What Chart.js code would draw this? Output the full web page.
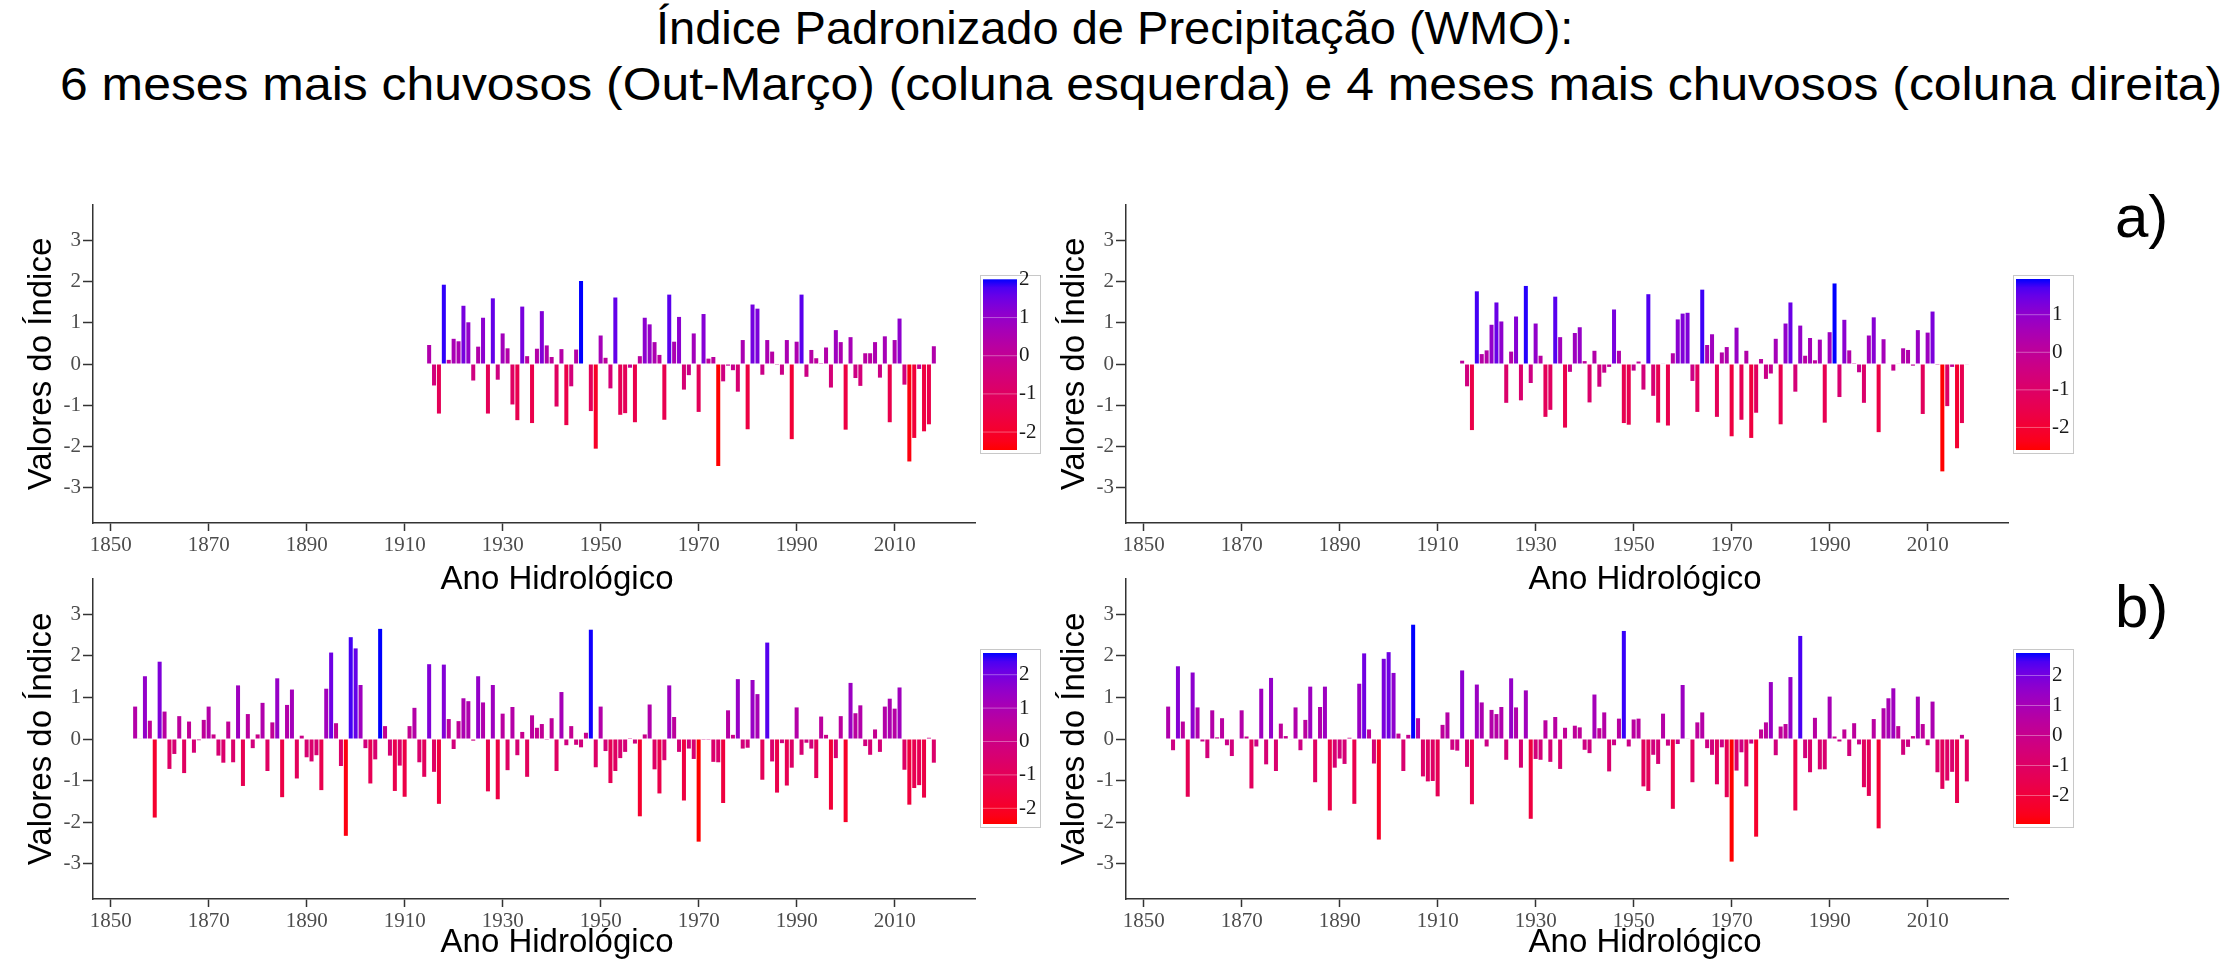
<!DOCTYPE html>
<html>
<head>
<meta charset="utf-8">
<script src="https://cdn.jsdelivr.net/npm/chart.js@4.4.1/dist/chart.umd.min.js"></script>
<style>
	body { margin: 0; width: 2226px; height: 967px; background: #fff; position: relative; overflow: hidden; font-family: "Liberation Sans", Arial, sans-serif; }
	canvas { position: absolute; }
	.t { position: absolute; white-space: nowrap; line-height: 1; color: #000; transform-origin: 0 0; }
</style>
</head>
<body>
<div class="t" id="t1" style="left:656px;top:5px;font-size:46px">Índice Padronizado de Precipitação (WMO):</div>
<div class="t" id="t2" style="left:60px;top:61px;font-size:46px">6 meses mais chuvosos (Out-Março) (coluna esquerda) e 4 meses mais chuvosos (coluna direita)</div>
<div class="t" style="left:2115px;top:187px;font-size:60px">a)</div>
<div class="t" style="left:2115px;top:577px;font-size:60px">b)</div>
<canvas id="aEsq" width="1113" height="420" style="left:0;top:180px"></canvas>
<canvas id="aDir" width="1113" height="420" style="left:1033px;top:180px"></canvas>
<canvas id="bEsq" width="1113" height="407" style="left:0;top:560px"></canvas>
<canvas id="bDir" width="1113" height="407" style="left:1033px;top:560px"></canvas>
<script>
var xTicks = [1850, 1870, 1890, 1910, 1930, 1950, 1970, 1990, 2010];
var yTicks = [-3, -2, -1, 0, 1, 2, 3];

// a) serie curta, anos hidrologicos 1915-2018
var inicioCurto = 1915;
var spi6Curto = [
	0.46, -0.52, -1.20, 1.92, 0.10, 0.61, 0.55, 1.41, 1.01, -0.40,
	0.42, 1.12, -1.20, 1.59, -0.38, 0.74, 0.38, -0.98, -1.36, 1.39,
	0.19, -1.43, 0.37, 1.28, 0.45, 0.17, -1.03, 0.36, -1.48, -0.54,
	0.35, 2.01, 0.00, -1.14, -2.05, 0.69, 0.15, -0.59, 1.61, -1.23,
	-1.19, -0.09, -1.41, 0.19, 1.12, 0.96, 0.53, 0.22, -1.35, 1.68,
	0.54, 1.14, -0.62, -0.27, 0.74, -1.16, 1.21, 0.13, 0.17, -2.47,
	-0.42, -0.04, -0.15, -0.67, 0.58, -1.58, 1.44, 1.34, -0.26, 0.58,
	0.30, -0.02, -0.26, 0.58, -1.82, 0.54, 1.68, -0.31, 0.34, 0.14,
	0.02, 0.40, -0.57, 0.82, 0.53, -1.59, 0.65, -0.34, -0.53, 0.26,
	0.26, 0.53, -0.33, 0.67, -1.41, 0.58, 1.10, -0.50, -2.36, -1.79,
	-0.12, -1.63, -1.46, 0.43
];
var spi4Curto = [
	0.08, -0.54, -1.60, 1.76, 0.24, 0.33, 0.95, 1.49, 1.03, -0.94,
	0.30, 1.15, -0.88, 1.89, -0.46, 0.98, 0.20, -1.28, -1.11, 1.63,
	0.65, -1.54, -0.19, 0.75, 0.89, 0.07, -0.93, 0.32, -0.55, -0.21,
	-0.07, 1.32, 0.32, -1.43, -1.47, -0.16, 0.06, -0.62, 1.69, -0.77,
	-1.42, 0.01, -1.49, 0.26, 1.08, 1.22, 1.24, -0.41, -1.16, 1.80,
	0.46, 0.72, -1.28, 0.28, 0.41, -1.75, 0.88, -1.35, 0.32, -1.79,
	-1.18, 0.12, -0.36, -0.23, 0.61, -1.46, 0.98, 1.49, -0.67, 0.93,
	0.20, 0.63, 0.09, 0.59, -1.42, 0.77, 1.95, -0.80, 1.07, 0.33,
	0.02, -0.20, -0.94, 0.69, 1.13, -1.65, 0.60, 0.00, -0.16, 0.01,
	0.38, 0.34, -0.04, 0.82, -1.21, 0.76, 1.27, -0.02, -2.60, -1.02,
	-0.07, -2.04, -1.43, -0.01
];

// b) serie longa, anos hidrologicos 1855-2018
var inicioLongo = 1855;
var spi6Longo = [
	0.78, 0.01, 1.51, 0.44, -1.89, 1.86, 0.66, -0.72, -0.36, 0.55,
	-0.82, 0.42, -0.33, -0.03, 0.46, 0.78, 0.11, -0.40, -0.57, 0.42,
	-0.56, 1.29, -1.13, 0.60, -0.22, 0.11, 0.87, -0.77, 0.40, 1.46,
	-1.40, 0.82, 1.19, -0.95, 0.08, -0.44, -0.54, -0.39, -1.23, 1.21,
	2.08, 0.38, -0.65, -2.33, 2.45, 2.18, 1.30, -0.22, -1.07, -0.49,
	2.65, 0.31, -0.40, -1.25, -0.64, -1.39, 0.31, 0.75, -0.56, -0.91,
	1.80, -0.79, -1.56, 1.79, 0.48, -0.24, 0.43, 0.98, 0.91, -0.04,
	1.51, 0.88, -1.26, 1.30, -1.45, 0.61, -0.75, 0.77, -0.39, 0.17,
	-0.91, 0.57, 0.27, 0.36, -0.02, 0.50, -0.77, 1.13, -0.15, 0.31,
	-0.14, -0.20, 0.15, 2.63, -0.68, 0.78, -0.29, -1.06, -0.77, -0.46,
	-0.31, 0.02, -0.11, -1.86, 0.11, 0.83, -0.73, -1.31, -0.51, 1.29,
	0.53, -0.31, -1.48, -0.23, -0.48, -2.47, -0.02, -0.02, -0.55, -0.56,
	-1.54, 0.69, 0.10, 1.44, -0.23, -0.21, 1.42, 1.08, -0.98, 2.32,
	-0.54, -1.29, -0.10, -1.12, -0.69, 0.76, -0.38, -0.09, -0.23, -0.94,
	0.54, 0.10, -1.70, -0.46, 0.55, -2.00, 1.35, 0.62, 0.81, -0.17,
	-0.38, 0.23, -0.31, 0.78, 0.97, 0.73, 1.24, -0.74, -1.58, -1.18,
	-1.11, -1.41, 0.03, -0.57
];
var spi4Longo = [
	0.78, -0.27, 1.75, 0.42, -1.39, 1.60, 0.76, -0.06, -0.46, 0.69,
	0.04, 0.50, -0.15, -0.41, 0.00, 0.69, 0.06, -1.19, -0.18, 1.21,
	-0.61, 1.47, -0.77, 0.37, 0.07, -0.01, 0.76, -0.27, 0.46, 1.26,
	-1.04, 0.77, 1.26, -1.72, -0.69, -0.47, -0.60, 0.03, -1.56, 1.33,
	2.06, 0.23, -0.59, -2.42, 1.93, 2.09, 1.59, 0.13, -0.77, 0.10,
	2.75, 0.50, -0.90, -1.02, -1.01, -1.38, 0.34, 0.64, -0.26, -0.28,
	1.65, -0.67, -1.57, 1.31, 0.88, -0.18, 0.70, 0.60, 0.77, -0.50,
	1.46, 0.76, -0.69, 1.17, -1.92, -0.48, -0.50, 0.45, -0.55, 0.53,
	-0.72, 0.27, -0.01, 0.32, 0.28, -0.26, -0.34, 1.07, 0.26, 0.64,
	-0.78, -0.15, 0.49, 2.60, -0.18, 0.47, 0.49, -1.14, -1.25, -0.38,
	-0.60, 0.61, -0.16, -1.68, -0.12, 1.30, 0.01, -1.04, 0.40, 0.64,
	-0.22, -0.38, -1.09, -0.20, -1.40, -2.95, -0.76, -0.32, -1.14, -0.11,
	-2.35, 0.23, 0.40, 1.37, -0.39, 0.30, 0.36, 1.49, -1.72, 2.48,
	-0.46, -0.80, 0.51, -0.73, -0.73, 1.02, 0.06, -0.06, 0.23, -0.41,
	0.38, -0.13, -1.16, -1.37, 0.48, -2.15, 0.74, 0.98, 1.22, 0.31,
	-0.38, -0.19, 0.07, 1.02, 0.36, -0.15, 0.90, -0.80, -1.20, -1.00,
	-0.79, -1.54, 0.10, -1.02
];

var serif = '"Liberation Serif", "Times New Roman", serif';
var sans = '"Liberation Sans", Arial, sans-serif';

// vermelho -> azul interpolado em Lab
function linear(c) {
	c = c / 255;
	return c <= 0.04045 ? c / 12.92 : Math.pow((c + 0.055) / 1.055, 2.4);
}
function paraLab(rgb) {
	var r = linear(rgb[0]), g = linear(rgb[1]), b = linear(rgb[2]);
	var x = (r * 0.4124 + g * 0.3576 + b * 0.1805) / 0.95047;
	var y = r * 0.2126 + g * 0.7152 + b * 0.0722;
	var z = (r * 0.0193 + g * 0.1192 + b * 0.9505) / 1.08883;
	var f = function(t) { return t > 0.008856 ? Math.cbrt(t) : 7.787 * t + 16 / 116; };
	return [116 * f(y) - 16, 500 * (f(x) - f(y)), 200 * (f(y) - f(z))];
}
function deLab(lab) {
	var fy = (lab[0] + 16) / 116, fx = fy + lab[1] / 500, fz = fy - lab[2] / 200;
	var inv = function(t) { return t * t * t > 0.008856 ? t * t * t : (t - 16 / 116) / 7.787; };
	var x = inv(fx) * 0.95047, y = inv(fy), z = inv(fz) * 1.08883;
	var r = x * 3.2406 - y * 1.5372 - z * 0.4986;
	var g = -x * 0.9689 + y * 1.8758 + z * 0.0415;
	var b = x * 0.0557 - y * 0.2040 + z * 1.0570;
	var gam = function(c) {
		c = Math.max(0, Math.min(1, c));
		return Math.round(255 * (c <= 0.0031308 ? 12.92 * c : 1.055 * Math.pow(c, 1 / 2.4) - 0.055));
	};
	return 'rgb(' + gam(r) + ',' + gam(g) + ',' + gam(b) + ')';
}
var labBaixo = paraLab([255, 0, 0]);
var labAlto = paraLab([0, 0, 255]);
function cor(v, min, max) {
	var t = (v - min) / (max - min);
	return deLab([0, 1, 2].map(function(k) { return labBaixo[k] + (labAlto[k] - labBaixo[k]) * t; }));
}

// barra de cores + titulo do eixo x (centrado no painel inteiro, nao so na area do grafico)
function extras(valores, deslocTitulo, yTitulo) {
	var min = Math.min.apply(null, valores), max = Math.max.apply(null, valores);
	return {
		id: 'extras',
		afterDraw: function(chart) {
			var ctx = chart.ctx, area = chart.chartArea;
			var fx = area.right + 5, fy = area.top + 70;
			var gx = fx + 3, gy = fy + 4, gw = 34, gh = 171;
			ctx.save();
			ctx.strokeStyle = '#c8c8c8';
			ctx.lineWidth = 1;
			ctx.strokeRect(fx + 0.5, fy + 0.5, 60, 178);
			var grad = ctx.createLinearGradient(0, gy, 0, gy + gh);
			for (var k = 0; k <= 20; k++) {
				grad.addColorStop(k / 20, cor(max - (max - min) * k / 20, min, max));
			}
			ctx.fillStyle = grad;
			ctx.fillRect(gx, gy, gw, gh);
			ctx.font = '21px ' + serif;
			ctx.textBaseline = 'middle';
			for (var v = Math.ceil(min); v <= Math.floor(max); v++) {
				var y = gy + (max - v) / (max - min) * gh;
				ctx.strokeStyle = 'rgba(255,255,255,0.35)';
				ctx.beginPath();
				ctx.moveTo(gx, y);
				ctx.lineTo(gx + gw, y);
				ctx.stroke();
				ctx.fillStyle = '#1a1a1a';
				ctx.fillText(String(v), gx + gw + 2, y);
			}
			ctx.font = '33px ' + sans;
			ctx.fillStyle = '#000';
			ctx.textAlign = 'center';
			ctx.fillText('Ano Hidrológico', (area.left + area.right) / 2 + deslocTitulo, yTitulo);
			ctx.restore();
		}
	};
}

function grafico(id, inicio, valores, topo, alturaX, deslocTitulo, yTitulo) {
	var min = Math.min.apply(null, valores), max = Math.max.apply(null, valores);
	var pontos = valores.map(function(v, i) { return {x: inicio + i, y: v}; });
	var cores = valores.map(function(v) { return cor(v, min, max); });
	return new Chart(document.getElementById(id), {
		type: 'bar',
		data: {
			datasets: [{
				data: pontos,
				backgroundColor: cores,
				borderWidth: 0,
				barPercentage: 0.82,
				categoryPercentage: 1
			}]
		},
		options: {
			responsive: false,
			animation: false,
			layout: { padding: { left: 0, top: topo, right: 138, bottom: 0 } },
			plugins: { legend: { display: false }, tooltip: { enabled: false } },
			scales: {
				x: {
					type: 'linear',
					min: 1846.4,
					max: 2026.4,
					offset: false,
					afterBuildTicks: function(s) { s.ticks = xTicks.map(function(v) { return {value: v}; }); },
					afterFit: function(s) { s.height = alturaX; },
					ticks: {
						font: { family: serif, size: 21 },
						color: '#4d4d4d',
						padding: 2,
						maxRotation: 0,
						autoSkip: false,
						callback: function(v) { return String(v); }
					},
					grid: { offset: false, drawOnChartArea: false, tickLength: 8, tickColor: '#333', tickWidth: 1.5 },
					border: { color: '#333', width: 1.5 }
				},
				y: {
					min: -3.85,
					max: 3.85,
					afterBuildTicks: function(s) { s.ticks = yTicks.map(function(v) { return {value: v}; }); },
					afterFit: function(s) { s.width = 93; },
					ticks: { font: { family: serif, size: 21 }, color: '#4d4d4d', padding: 2 },
					grid: { drawOnChartArea: false, tickLength: 10, tickColor: '#333', tickWidth: 1.5 },
					border: { color: '#333', width: 1.5 },
					title: { display: true, text: 'Valores do Índice', color: '#000', font: { family: sans, size: 33 }, padding: { top: 22, bottom: 0 } }
				}
			}
		},
		plugins: [extras(valores, deslocTitulo, yTitulo)]
	});
}

grafico('aEsq', inicioCurto, spi6Curto, 25, 77, 23, 400);
grafico('aDir', inicioCurto, spi4Curto, 25, 77, 78, 400);
grafico('bEsq', inicioLongo, spi6Longo, 19, 68, 23, 383);
grafico('bDir', inicioLongo, spi4Longo, 19, 68, 78, 383);

function ajustar(id, largura) {
	var el = document.getElementById(id);
	el.style.transform = 'scaleX(' + (largura / el.offsetWidth) + ')';
}
ajustar('t1', 917);
ajustar('t2', 2162);
</script>
</body>
</html>
